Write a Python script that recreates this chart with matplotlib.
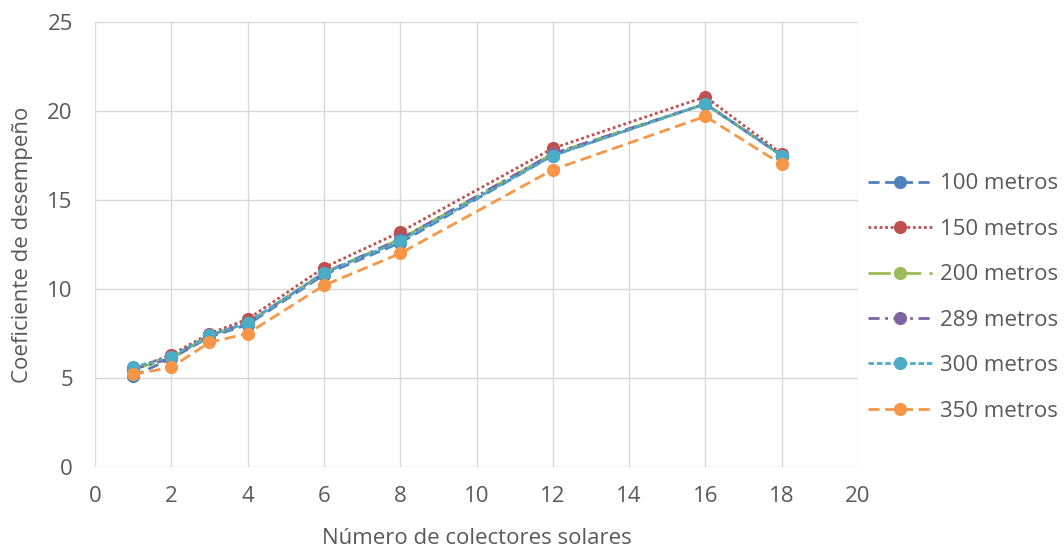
import matplotlib
matplotlib.use("Agg")
import matplotlib.pyplot as plt

x = [1, 2, 3, 4, 6, 8, 12, 16, 18]
labels = ["100 metros", "150 metros", "200 metros", "289 metros", "300 metros", "350 metros"]
s100 = [5.1, 6.1, 7.3, 8.0, 10.8, 12.6, 17.5, 20.4, 17.5]
s150 = [5.5, 6.3, 7.5, 8.3, 11.2, 13.2, 17.9, 20.8, 17.6]
s200 = [5.5, 6.1, 7.4, 8.1, 10.9, 12.8, 17.6, 20.4, 17.5]
s289 = [5.5, 6.1, 7.4, 8.1, 10.9, 12.8, 17.6, 20.4, 17.5]
s300 = [5.6, 6.2, 7.4, 8.1, 10.9, 12.7, 17.5, 20.4, 17.5]
s350 = [5.2, 5.6, 7.0, 7.5, 10.2, 12.0, 16.7, 19.7, 17.0]

series = [s100, s150, s200, s289, s300, s350]
colors = ["#4F81BD", "#C0504D", "#9BBB59", "#8064A2", "#4BACC6", "#F79646"]
styles = [(0, (4, 2)), (0, (1, 1)), (0, (8, 3)), (0, (4, 2, 1, 2)), (0, (2, 1)), (0, (4, 2))]

plt.rcParams['font.family'] = ['Open Sans', 'DejaVu Sans']
fig = plt.figure(figsize=(10.64, 5.53), dpi=100)
ax = fig.add_axes([95/1064, 1-467/553, (858-95)/1064, (467-22)/553])

for ys, c, ls, lab in zip(series, colors, styles, labels):
    ax.plot(x, ys, color=c, linestyle=ls, linewidth=2.0, marker='o', markersize=9.5,
            markeredgewidth=0, label=lab)

ax.set_xlim(0, 20)
ax.set_ylim(0, 25)
ax.set_xticks(range(0, 21, 2))
ax.set_yticks(range(0, 26, 5))
ax.grid(True, color="#D9D9D9", linewidth=1)
ax.set_axisbelow(True)
for sp in ax.spines.values():
    sp.set_visible(False)
ax.tick_params(length=0, labelsize=16, colors="#595959")
ax.tick_params(axis='x', pad=14)
ax.tick_params(axis='y', pad=16)
ax.set_xlabel("Número de colectores solares", fontsize=16, color="#595959", labelpad=15)
ax.set_ylabel("Coeficiente de desempeño", fontsize=16, color="#595959", labelpad=10)

leg = ax.legend(loc='center left', bbox_to_anchor=(868/1064, 1-297.5/553),
                bbox_transform=fig.transFigure, frameon=False, fontsize=16,
                labelspacing=1.1, handlelength=2.9, handletextpad=0.35,
                borderaxespad=0, borderpad=0)
for t in leg.get_texts():
    t.set_color("#595959")

fig.savefig("out.png", dpi=100)
